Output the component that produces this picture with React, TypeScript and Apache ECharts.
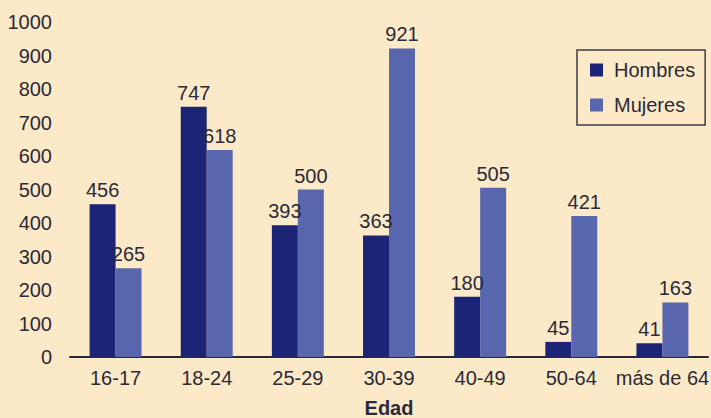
import React, { useEffect, useRef } from "react";
import * as echarts from "echarts";

const categories = ["16-17", "18-24", "25-29", "30-39", "40-49", "50-64", "más de 64"];
const hombres = [456, 747, 393, 363, 180, 45, 41];
const mujeres = [265, 618, 500, 921, 505, 421, 163];
const seriesNames = ["Hombres", "Mujeres"];
const axisTitle = "Edad";

const FONT = "'Liberation Sans', Arial, sans-serif";
const TEXT = "#2a2a38";

export default function App() {
  const ref = useRef<HTMLDivElement>(null);
  useEffect(() => {
    const chart = echarts.init(ref.current!, null, { renderer: "svg" });
    chart.setOption({
      animation: false,
      backgroundColor: "#fce9c8",
      textStyle: { fontFamily: FONT },
      grid: {
        left: 70,
        top: 22,
        width: 638,
        bottom: 61,
        containLabel: false,
        outerBoundsMode: "none",
      },
      legend: {
        orient: "vertical",
        left: 577,
        top: 50,
        width: 130,
        borderColor: "#3a3a4a",
        borderWidth: 1.5,
        padding: [10, 10, 10, 13],
        itemWidth: 13,
        itemHeight: 13,
        itemGap: 15,
        icon: "rect",
        textStyle: { fontSize: 20, color: TEXT, fontFamily: FONT, padding: [0, 0, 0, 6] },
        data: seriesNames,
      },
      xAxis: {
        type: "category",
        data: categories,
        name: axisTitle,
        nameLocation: "middle",
        nameGap: 41,
        nameTextStyle: { fontSize: 20, fontWeight: "bold", color: TEXT, fontFamily: FONT },
        axisLine: { show: true, lineStyle: { color: "#2a2a3a", width: 2 } },
        axisTick: { show: false },
        axisLabel: { fontSize: 20, color: TEXT, margin: 11, fontFamily: FONT, interval: 0 },
      },
      yAxis: {
        type: "value",
        min: 0,
        max: 1000,
        interval: 100,
        splitLine: { show: false },
        axisLine: { show: false },
        axisTick: { show: false },
        axisLabel: {
          fontSize: 20,
          color: TEXT,
          margin: 18,
          fontFamily: FONT,
          formatter: (v: number) => String(v),
        },
      },
      series: [
        {
          name: seriesNames[0],
          type: "bar",
          data: hombres,
          barGap: "0%",
          barCategoryGap: "43%",
          itemStyle: { color: "#1c2475" },
          label: { show: true, position: "top", fontSize: 20, color: TEXT, distance: 4, fontFamily: FONT },
        },
        {
          name: seriesNames[1],
          type: "bar",
          data: mujeres,
          barGap: "0%",
          barCategoryGap: "43%",
          itemStyle: { color: "#5866ad" },
          label: { show: true, position: "top", fontSize: 20, color: TEXT, distance: 4, fontFamily: FONT },
        },
      ],
    });
    return () => chart.dispose();
  }, []);
  return (
    <div
      ref={ref}
      style={{ position: "fixed", left: 0, top: 0, width: 711, height: 418 }}
    />
  );
}
